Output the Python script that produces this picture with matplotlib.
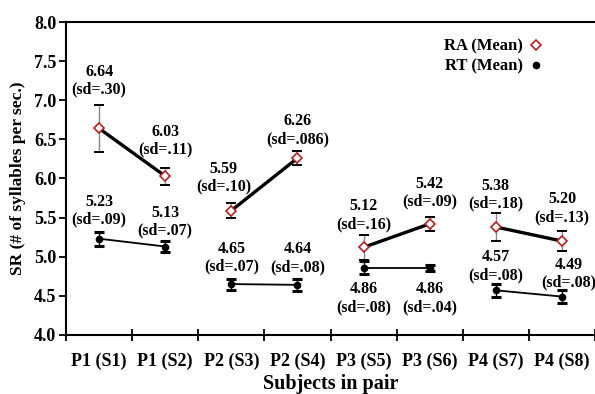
import numpy as np
import matplotlib
matplotlib.use("Agg")
import matplotlib.pyplot as plt

plt.rcParams['font.family'] = ['Liberation Serif', 'DejaVu Serif']
plt.rcParams['font.weight'] = 'bold'

# --- dati ---
subjects = ['P1 (S1)', 'P1 (S2)', 'P2 (S3)', 'P2 (S4)',
            'P3 (S5)', 'P3 (S6)', 'P4 (S7)', 'P4 (S8)']
ra_mean = [6.64, 6.03, 5.59, 6.26, 5.12, 5.42, 5.38, 5.20]
ra_sd = [0.30, 0.11, 0.10, 0.086, 0.16, 0.09, 0.18, 0.13]
ra_sd_lbl = ['.30', '.11', '.10', '.086', '.16', '.09', '.18', '.13']
rt_mean = [5.23, 5.13, 4.65, 4.64, 4.86, 4.86, 4.57, 4.49]
rt_sd = [0.09, 0.07, 0.07, 0.08, 0.08, 0.04, 0.08, 0.08]
rt_sd_lbl = ['.09', '.07', '.07', '.08', '.08', '.04', '.08', '.08']

# posizione delle etichette (offset verticale rispetto alla media)
ra_off = [0.61, 0.45, 0.42, 0.36, 0.41, 0.40, 0.41, 0.42]
ra_dx = [0, 0, -0.12, 0, 0, 0, 0, 0]
rt_off = [0.36, 0.32, 0.34, 0.34, -0.39, -0.39, 0.31, 0.29]
rt_dx = [0, 0, 0, 0, 0, 0, 0, 0.1]

x = np.arange(len(subjects))
red = '#b22222'

fig = plt.figure(figsize=(5.95, 3.94), dpi=100)
ax = fig.add_axes([0.111, 0.150, 0.889, 0.794])

# linee tra le coppie
for i in range(0, len(x), 2):
    ax.plot(x[i:i+2], ra_mean[i:i+2], color='black', lw=2.4, zorder=2)
    ax.plot(x[i:i+2], rt_mean[i:i+2], color='black', lw=1.3, zorder=2)

eb = ax.errorbar(x, ra_mean, yerr=ra_sd, fmt='none', ecolor='#888888',
                 elinewidth=1.0, capsize=3.5, capthick=1.4, zorder=3)
for c in eb[1]:
    c.set_color('black')
    c.set_markeredgecolor('black')
ax.errorbar(x, rt_mean, yerr=rt_sd, fmt='none', ecolor='black',
            elinewidth=1.0, capsize=3.5, capthick=2.2, zorder=3)

ax.plot(x, ra_mean, ls='none', marker='D', ms=5.5, mfc='white',
        mec=red, mew=1.2, zorder=4, label='RA (Mean)')
ax.plot(x, rt_mean, ls='none', marker='o', ms=4.5, color='black',
        zorder=4, label='RT (Mean)')

for i in range(len(x)):
    ax.text(x[i] + ra_dx[i], ra_mean[i] + ra_off[i],
            f'{ra_mean[i]:.2f}\n(sd={ra_sd_lbl[i]})', ha='center', va='center',
            fontsize=11.5, fontweight='bold', linespacing=1.15)
    ax.text(x[i] + rt_dx[i], rt_mean[i] + rt_off[i],
            f'{rt_mean[i]:.2f}\n(sd={rt_sd_lbl[i]})', ha='center', va='center',
            fontsize=11.5, fontweight='bold', linespacing=1.15)

ax.set_xlim(-0.5, 7.5)
ax.set_ylim(4.0, 8.0)
ax.set_yticks(np.arange(4.0, 8.01, 0.5))
ax.set_yticklabels([f'{v:.1f}' for v in np.arange(4.0, 8.01, 0.5)],
                   fontsize=13, fontweight='bold')
ax.set_xticks(np.arange(-0.5, 7.6, 1.0))
ax.set_xticklabels([])
ax.set_xticks(x, minor=True)
ax.set_xticklabels(subjects, minor=True, fontsize=13, fontweight='bold')
ax.tick_params(axis='x', which='major', direction='inout', length=8, width=1.3)
ax.tick_params(axis='x', which='minor', length=0, pad=13)
ax.tick_params(axis='y', direction='out', length=5, width=1.3, pad=2)

for s in ['left', 'bottom', 'top']:
    ax.spines[s].set_linewidth(1.5)
ax.spines['right'].set_visible(False)

ax.set_ylabel('SR (# of syllables per sec.)', fontsize=12.5, fontweight='bold', labelpad=6)
ax.set_xlabel('Subjects in pair', fontsize=14.5, fontweight='bold', labelpad=2.5)

ax.legend(loc='upper right', bbox_to_anchor=(0.93, 0.995), frameon=False,
          markerfirst=False, handlelength=0.8, handletextpad=0.4,
          labelspacing=0.25, prop={'size': 12, 'weight': 'bold'})

fig.savefig('out.png', dpi=100)
